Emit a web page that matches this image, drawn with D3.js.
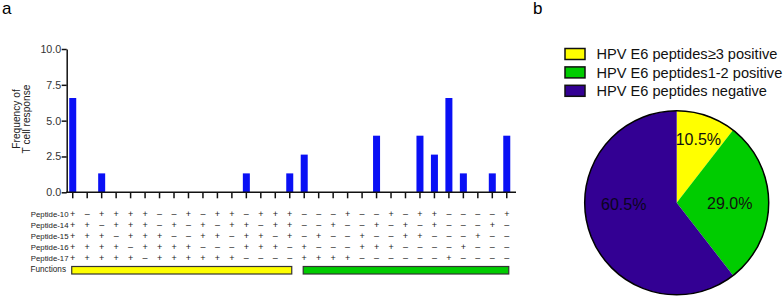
<!DOCTYPE html>
<html lang="en">

<head>
    <meta charset="UTF-8">
    <title>HPV E6 peptide T cell response</title>
    <script src="https://d3js.org/d3.v7.min.js"></script>
    <style>
        body {
            margin: 0;
            background: #fff;
        }

        text {
            font-family: "Liberation Sans", Arial, sans-serif;
        }
    </style>
</head>

<body>
    <script>
        // Panel a: frequency of T cell response per peptide combination
        const peptides = ["Peptide-10", "Peptide-14", "Peptide-15", "Peptide-16", "Peptide-17"];
        const signs = [
            "+-++++--+-++-+++" + "---+--+-++----+",
            "++-+++-+-+-++-++" + "--+--+-+-+---+-",
            "+++-+++--++-++-+" + "-+--+--++---+--",
            "++++-++++---+++-" + "+---+++----+---",
            "+++++-++++++----" + "++++------+----"
        ];
        const freq = [6.58, 0, 1.32, 0, 0, 0, 0, 0, 0, 0, 0, 0, 1.32, 0, 0, 1.32,
            2.63, 0, 0, 0, 0, 3.95, 0, 0, 3.95, 2.63, 6.58, 1.32, 0, 1.32, 3.95];
        const yTicks = [0, 2.5, 5, 7.5, 10];
        const groupSizes = [16, 15];
        const groupColors = ["#ffff00", "#00cc00"];

        // Panel b: pie
        const pieLabels = ["HPV E6 peptides\u22653 positive", "HPV E6 peptides1-2 positive", "HPV E6 peptides negative"];
        const pieValues = [10.5, 29.0, 60.5];
        const pieColors = ["#ffff00", "#00cc00", "#330093"];

        const svg = d3.select("body")
            .append("svg")
            .attr("width", 784)
            .attr("height", 296);

        // panel letters
        svg.append("text").attr("x", 2).attr("y", 14).attr("font-size", 17).text("a");
        svg.append("text").attr("x", 533).attr("y", 13.5).attr("font-size", 17).text("b");

        const cols = d3.range(freq.length);
        const x = d3.scaleBand()
            .domain(cols)
            .range([65.5, 514]);
        const y = d3.scaleLinear()
            .domain([0, 10])
            .range([192.3, 49]);

        // bars
        svg.selectAll("rect.bar")
            .data(freq)
            .join("rect")
            .attr("class", "bar")
            .attr("x", (d, i) => x(i) + x.bandwidth() / 2 - 3.5)
            .attr("width", 7)
            .attr("y", d => y(d))
            .attr("height", d => y(0) - y(d))
            .attr("fill", "#0a10f5");

        // y axis
        const yAxis = svg.append("g")
            .attr("transform", "translate(66.7,0)")
            .call(d3.axisLeft(y).tickValues(yTicks).tickFormat(d3.format(".1f")).tickSize(5).tickSizeOuter(0));
        yAxis.select(".domain").attr("stroke", "#111").attr("stroke-width", 1.5);
        yAxis.selectAll(".tick line").attr("stroke", "#111").attr("stroke-width", 1.5);
        yAxis.selectAll(".tick text")
            .attr("font-family", "Liberation Sans, Arial, sans-serif")
            .attr("font-size", 10.7)
            .attr("fill", "#333")
            .attr("x", -5.5);

        // x axis
        svg.append("line")
            .attr("x1", 66).attr("x2", 516)
            .attr("y1", y(0)).attr("y2", y(0))
            .attr("stroke", "#111").attr("stroke-width", 1.5);
        svg.selectAll("line.xtick")
            .data(cols)
            .join("line")
            .attr("class", "xtick")
            .attr("x1", d => x(d) + x.bandwidth() / 2)
            .attr("x2", d => x(d) + x.bandwidth() / 2)
            .attr("y1", y(0))
            .attr("y2", y(0) + 6)
            .attr("stroke", "#111").attr("stroke-width", 1.5);

        // y axis title
        const yTitle = svg.append("text")
            .attr("transform", "translate(0,119) rotate(-90)")
            .attr("text-anchor", "middle")
            .attr("font-size", 10.2)
            .attr("fill", "#222");
        yTitle.append("tspan").attr("x", 0).attr("y", 19.5).text("Frequency of");
        yTitle.append("tspan").attr("x", 0).attr("y", 29.5).text("T cell response");

        // sign table
        const rowY = d3.scalePoint().domain(peptides).range([214.3, 258.3]);
        peptides.forEach((p, r) => {
            svg.append("text")
                .attr("x", 68.5)
                .attr("y", rowY(p))
                .attr("dy", "0.35em")
                .attr("text-anchor", "end")
                .attr("font-size", 7.8)
                .attr("fill", "#222")
                .text(p);
            svg.selectAll("text.sign" + r)
                .data(signs[r].split(""))
                .join("text")
                .attr("class", "sign" + r)
                .attr("x", (d, i) => x(i) + x.bandwidth() / 2)
                .attr("y", rowY(p))
                .attr("dy", "0.35em")
                .attr("text-anchor", "middle")
                .attr("font-size", 9)
                .attr("fill", "#222")
                .text(d => d === "+" ? "+" : "\u2013");
        });

        svg.append("text")
            .attr("x", 66)
            .attr("y", 269.5)
            .attr("dy", "0.35em")
            .attr("text-anchor", "end")
            .attr("font-size", 8.2)
            .attr("fill", "#222")
            .text("Functions");

        let start = 0;
        groupSizes.forEach((n, g) => {
            const x0 = x(start) + x.bandwidth() / 2 - 1;
            const x1 = x(start + n - 1) + x.bandwidth() / 2 + 2;
            svg.append("rect")
                .attr("x", x0).attr("y", 266.5)
                .attr("width", x1 - x0).attr("height", 7.5)
                .attr("fill", groupColors[g])
                .attr("stroke", "#333").attr("stroke-width", 1.2);
            start += n;
        });

        // legend
        const legend = svg.selectAll("g.legend")
            .data(pieLabels)
            .join("g")
            .attr("class", "legend")
            .attr("transform", (d, i) => `translate(565,${48.5 + i * 18.4})`);
        legend.append("rect")
            .attr("width", 20).attr("height", 11)
            .attr("fill", (d, i) => pieColors[i])
            .attr("stroke", "#111").attr("stroke-width", 1.5);
        legend.append("text")
            .attr("x", 31.5).attr("y", 5.5)
            .attr("dy", "0.36em")
            .attr("font-size", 14.6)
            .attr("fill", "#111")
            .text(d => d);

        // pie
        const cx = 676.7, cy = 202.8, radius = 92;
        const pie = d3.pie().sort(null)(pieValues);
        const arc = d3.arc().innerRadius(0).outerRadius(radius);
        const pg = svg.append("g").attr("transform", `translate(${cx},${cy})`);
        pg.selectAll("path")
            .data(pie)
            .join("path")
            .attr("d", arc)
            .attr("fill", (d, i) => pieColors[i]);
        pg.append("circle")
            .attr("r", radius)
            .attr("fill", "none")
            .attr("stroke", "#000").attr("stroke-width", 1.5);

        // label placement: radius and angle (radians) inside each slice
        const labelRadius = [67, 53, 53];
        const labelAngle = pie.map((d, i) => i === 2 ? 1.5 * Math.PI - 0.02 : (d.startAngle + d.endAngle) / 2);
        pg.selectAll("text.pl")
            .data(pie)
            .join("text")
            .attr("class", "pl")
            .attr("transform", (d, i) => `translate(${d3.pointRadial(labelAngle[i], labelRadius[i])})`)
            .attr("text-anchor", "middle")
            .attr("dy", "0.36em")
            .attr("font-size", 16)
            .attr("fill", (d, i) => i === 2 ? "#0a0420" : "#111")
            .text(d => d.data.toFixed(1) + "%");
    </script>
</body>

</html>
